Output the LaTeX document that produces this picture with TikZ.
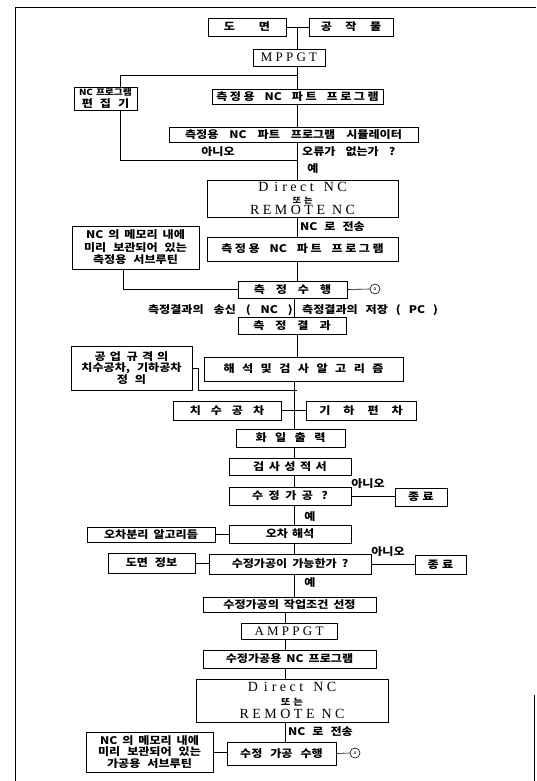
\documentclass[tikz,border=0pt]{standalone}
\usepackage{fontspec}
\setmainfont{Liberation Serif}
\newfontfamily\kr[FakeStretch=1.15]{Noto Sans CJK KR}
\newfontfamily\lat[LetterSpace=25]{Liberation Serif}
\newcommand\latt[1]{{\lat\mdseries\fontsize{13}{13}\selectfont #1}}
\newcommand\lattd[1]{{\lat\mdseries\fontsize{14}{14}\selectfont #1}}
\newcommand\dirnc{\lattd{D\kern6pt i\kern4pt rect\kern3pt\ NC}}
\newcommand\krf{\kr\bfseries\fontsize{10.5}{12.5}\selectfont\spaceskip=7pt plus 1pt\relax}
\newcommand\ks{\kern2.5pt}
\tikzset{
 bx/.style={draw, line width=0.7pt, inner sep=0pt, font=\krf, align=center},
 lab/.style={inner sep=0pt, font=\krf},
 ln/.style={line width=0.6pt},
 circa/.style={draw, circle, line width=0.6pt, minimum size=10pt, inner sep=0pt, font=\fontsize{6}{6}\selectfont},
}
\newcommand\bx[6]{\node[bx, minimum width={#4-#2}, minimum height={#5-#3}] (#1) at ({(#2+#4)/2},{(#3+#5)/2}) {#6};}
\begin{document}
\begin{tikzpicture}[x=1pt,y=-1pt]
\useasboundingbox (0,0) rectangle (536,781);
% frame
\coordinate (f1) at (15,781);
\coordinate (f2) at (15,7);
\coordinate (f3) at (536,7);
\coordinate (f4) at (534,695);
\coordinate (f5) at (534,781);
\draw[ln] (f1) -- (f2) -- (f3);
\draw[ln] (f4) -- (f5);
% boxes
\bx{dm}{208}{18}{286}{36}{도\hspace{24pt}면}
\bx{gj}{309}{18}{393}{36}{공\hspace{13.5pt}작\hspace{13.5pt}물}
\bx{mppgt}{253}{49}{325}{66}{\latt{MPPGT}}
\bx{edit}{74}{87}{137}{110}{\fontsize{8.5}{9}\selectfont\spaceskip=3pt NC 프로그램\\[-1pt]편\hspace{7pt}집\hspace{7pt}기}
\bx{mpp}{212}{89}{383}{104}{\spaceskip=10pt 측\ks 정\ks 용 NC 파\ks 트 프\ks 로\ks 그\ks 램}
\bx{sim}{169}{127}{418}{142}{\spaceskip=11pt 측정용 NC 파트 프로그램 시뮬레이터}
\bx{dnc1}{207}{180}{398}{217}{\dirnc\\[-1pt]{\fontsize{8}{8}\selectfont\spaceskip=3pt 또 는}\\[-1pt]\lattd{REMOTE NC}}
\bx{mem1}{72}{226}{199}{269}{\spaceskip=5pt NC 의 메모리 내에\\미리 보관되어 있는\\측정용 서브루틴}
\bx{mpp2}{207}{237}{398}{261}{\spaceskip=10pt 측\ks 정\ks 용 NC 파\ks 트 프\ks 로\ks 그\ks 램}
\bx{meas}{238}{281}{347}{298}{측\hspace{11pt}정\hspace{11pt}수\hspace{11pt}행}
\bx{res}{238}{317}{346}{334}{측\hspace{11pt}정\hspace{11pt}결\hspace{11pt}과}
\bx{std}{71}{346}{192}{390}{\spaceskip=4pt 공 업\hspace{6pt}규 격 의\\[-1pt]치수공차, 기하공차\\[-1pt]정 의}
\bx{alg}{204}{357}{403}{381}{해\hspace{7.5pt}석\hspace{7.5pt}및\hspace{7.5pt}검\hspace{7.5pt}사\hspace{7.5pt}알\hspace{7.5pt}고\hspace{7.5pt}리\hspace{7.5pt}즘}
\bx{dim}{173}{401}{281}{420}{치\hspace{10pt}수\hspace{10pt}공\hspace{10pt}차}
\bx{geo}{306}{401}{416}{420}{기\hspace{13pt}하\hspace{13pt}편\hspace{13pt}차}
\bx{file}{236}{429}{345}{447}{화\hspace{8.5pt}일\hspace{8.5pt}출\hspace{8.5pt}력}
\bx{rep}{229}{458}{351}{475}{검\hspace{4.5pt}사\hspace{4.5pt}성\hspace{4.5pt}적\hspace{4.5pt}서}
\bx{q1}{229}{487}{351}{505}{수\hspace{5.5pt}정\hspace{5.5pt}가\hspace{5.5pt}공\hspace{8.5pt}?}
\bx{end1}{395}{488}{447}{506}{종\hspace{3.5pt}료}
\bx{err}{229}{525}{351}{543}{오차\hspace{4pt}해석}
\bx{sep}{87}{527}{215}{542}{\spaceskip=5pt 오차분리 알고리듬}
\bx{q2}{209}{554}{371}{574}{\spaceskip=5pt 수정가공이 가능한가 ?}
\bx{info}{108}{553}{195}{573}{도면 정보}
\bx{end2}{415}{555}{466}{574}{종\hspace{3.5pt}료}
\bx{cond}{203}{597}{376}{612}{\spaceskip=5pt 수정가공의 작업조건 선정}
\bx{amppgt}{241}{623}{337}{639}{\latt{AMPPGT}}
\bx{prog}{203}{650}{376}{668}{\spaceskip=5pt 수정가공용 NC 프로그램}
\bx{dnc2}{196}{679}{388}{722}{\dirnc\\[1pt]{\fontsize{9}{9}\selectfont\spaceskip=3pt 또 는}\\[1pt]\lattd{REMOTE NC}}
\bx{mem2}{86}{732}{213}{772}{\spaceskip=5pt NC 의 메모리 내에\\[-1pt]미리 보관되어 있는\\[-1pt]가공용 서브루틴}
\bx{exe}{227}{742}{336}{765}{\spaceskip=8pt 수정 가공 수행}
% circles
\node[circa] (a1) at (375,289) {a};
\node[circa] (a2) at (355,753) {a};
% labels
\node[lab] (l1) at (218,152) {아니오};
\node[lab, anchor=west] (l2) at (302,152) {\spaceskip=10pt 오류가 없는가 ?};
\node[lab] (l3) at (313,169) {예};
\node[lab, anchor=west] (l4) at (300,227) {NC 로 전송};
\node[lab, anchor=east] (l5) at (293,310) {\spaceskip=10pt 측정결과의 송신 ( NC )};
\node[lab, anchor=west] (l6) at (302,310) {\spaceskip=8pt 측정결과의 저장 ( PC )};
\node[lab] (l7) at (368,484) {아니오};
\node[lab] (l8) at (310,517) {예};
\node[lab] (l9) at (388,552) {아니오};
\node[lab] (l10) at (310,583) {예};
\node[lab, anchor=west] (l11) at (288,732) {NC 로 전송};
% axis coordinates
\coordinate (ax1) at (297,0);
\coordinate (ax2) at (294,0);
\coordinate (ax3) at (285,0);
\coordinate (ed) at (120,0);
\coordinate (mx1) at (123,0);
\coordinate (j2) at (297,75);
\coordinate (j3) at (297,160);
\coordinate (s1) at (198,368);
\coordinate (s2) at (198,390);
\coordinate (s3) at (297,390);
% connectors
\draw[ln] (dm) -- (gj);
\draw[ln] (ax1|-dm.east) -- (ax1|-mppgt.north);
\draw[ln] (ax1|-mppgt.south) -- (ax1|-mpp.north);
\draw[ln] (j2) -| (ed|-edit.north);
\draw[ln] (ax1|-mpp.south) -- (ax1|-sim.north);
\draw[ln] (ed|-edit.south) |- (j3);
\draw[ln] (ax1|-sim.south) -- (ax1|-dnc1.north);
\draw[ln] (ax1|-dnc1.south) -- (ax1|-mpp2.north);
\draw[ln] (ax1|-mpp2.south) -- (ax1|-meas.north);
\draw[ln] (mx1|-mem1.south) |- (meas.west);
\draw[ln] (meas.east) -- (a1.west);
\draw[ln] (ax2|-meas.south) -- (ax2|-res.north);
\draw[ln] (ax1|-res.south) -- (ax1|-alg.north);
\draw[ln] (std.east|-s1) -- (s1) -- (s2) -- (s3);
\draw[ln] (ax2|-alg.south) -- (ax2|-file.north);
\draw[ln] (dim) -- (geo);
\draw[ln] (ax2|-file.south) -- (ax2|-rep.north);
\draw[ln] (ax2|-rep.south) -- (ax2|-q1.north);
\draw[ln] (q1.east) -- (q1.east-|end1.west);
\draw[ln] (ax2|-q1.south) -- (ax2|-err.north);
\draw[ln] (sep.east) -- (sep.east-|err.west);
\draw[ln] (ax2|-err.south) -- (ax2|-q2.north);
\draw[ln] (info.east) -- (info.east-|q2.west);
\draw[ln] (q2.east) -- (q2.east-|end2.west);
\draw[ln] (ax2|-q2.south) -- (ax2|-cond.north);
\draw[ln] (ax3|-cond.south) -- (ax3|-amppgt.north);
\draw[ln] (ax3|-amppgt.south) -- (ax3|-prog.north);
\draw[ln] (ax3|-prog.south) -- (ax3|-dnc2.north);
\draw[ln] (ax3|-dnc2.south) -- (ax3|-exe.north);
\draw[ln] (mem2.east) -- (mem2.east-|exe.west);
\draw[ln] (exe.east) -- (a2.west);
\end{tikzpicture}
\end{document}
